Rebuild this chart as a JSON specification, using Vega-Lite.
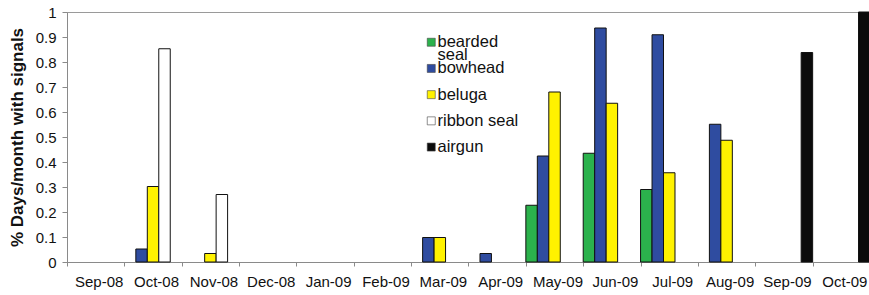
{
  "$schema": "https://vega.github.io/schema/vega-lite/v6.json",
  "width": 803,
  "height": 250,
  "autosize": {"type": "none"},
  "padding": {"left": 67, "top": 12, "right": 0, "bottom": 33},
  "background": "white",
  "config": {
    "font": "Liberation Sans",
    "view": {"stroke": "#9a9a9a", "strokeWidth": 1}
  },
  "layer": [
    {
      "data": {
        "values": [
          {"month": "Oct-08", "species": "bowhead", "value": 0.052},
          {"month": "Oct-08", "species": "beluga", "value": 0.302},
          {"month": "Oct-08", "species": "ribbon seal", "value": 0.853},
          {"month": "Nov-08", "species": "beluga", "value": 0.034},
          {"month": "Nov-08", "species": "ribbon seal", "value": 0.27},
          {"month": "Mar-09", "species": "bowhead", "value": 0.098},
          {"month": "Mar-09", "species": "beluga", "value": 0.098},
          {"month": "Apr-09", "species": "bowhead", "value": 0.034},
          {"month": "May-09", "species": "bearded seal", "value": 0.227},
          {"month": "May-09", "species": "bowhead", "value": 0.424},
          {"month": "May-09", "species": "beluga", "value": 0.68},
          {"month": "Jun-09", "species": "bearded seal", "value": 0.435},
          {"month": "Jun-09", "species": "bowhead", "value": 0.936},
          {"month": "Jun-09", "species": "beluga", "value": 0.635},
          {"month": "Jul-09", "species": "bearded seal", "value": 0.29},
          {"month": "Jul-09", "species": "bowhead", "value": 0.909},
          {"month": "Jul-09", "species": "beluga", "value": 0.357},
          {"month": "Aug-09", "species": "bowhead", "value": 0.551},
          {"month": "Aug-09", "species": "beluga", "value": 0.487},
          {"month": "Sep-09", "species": "airgun", "value": 0.838},
          {"month": "Oct-09", "species": "airgun", "value": 1.0}
        ]
      },
      "mark": {"type": "bar", "stroke": "#111111", "strokeWidth": 1},
      "encoding": {
        "x": {
          "field": "month",
          "type": "nominal",
          "scale": {
            "domain": ["Sep-08", "Oct-08", "Nov-08", "Dec-08", "Jan-09", "Feb-09", "Mar-09", "Apr-09", "May-09", "Jun-09", "Jul-09", "Aug-09", "Sep-09", "Oct-09"],
            "paddingInner": 0,
            "paddingOuter": 0
          },
          "axis": {
            "title": null,
            "labelAngle": 0,
            "labelFontSize": 15,
            "labelColor": "#111111",
            "labelPadding": 8,
            "labelOffset": 3,
            "tickBand": "extent",
            "tickSize": 4,
            "tickColor": "#8a8a8a",
            "domainColor": "#8a8a8a",
            "grid": false
          }
        },
        "xOffset": {
          "field": "species",
          "type": "nominal",
          "scale": {
            "domain": ["bearded seal", "bowhead", "beluga", "ribbon seal", "airgun"],
            "paddingInner": 0,
            "paddingOuter": 0
          }
        },
        "y": {
          "field": "value",
          "type": "quantitative",
          "scale": {"domain": [0, 1], "nice": false},
          "axis": {
            "title": "% Days/month with signals",
            "titleFontSize": 17,
            "titleFontWeight": "bold",
            "titleColor": "#111111",
            "titlePadding": 9,
            "values": [0, 0.1, 0.2, 0.3, 0.4, 0.5, 0.6, 0.7, 0.8, 0.9, 1],
            "format": "~g",
            "labelFontSize": 15,
            "labelColor": "#111111",
            "labelPadding": 6,
            "tickSize": 5,
            "tickColor": "#8a8a8a",
            "domainColor": "#8a8a8a",
            "grid": false
          }
        },
        "color": {
          "field": "species",
          "type": "nominal",
          "scale": {
            "domain": ["bearded seal", "bowhead", "beluga", "ribbon seal", "airgun"],
            "range": ["#2bb24c", "#2f4ca0", "#fff200", "#ffffff", "#0b0b0b"]
          },
          "legend": {
            "title": null,
            "orient": "none",
            "legendX": 356,
            "legendY": 22,
            "padding": 0,
            "symbolType": "square",
            "symbolSize": 64,
            "symbolStrokeColor": "#444444",
            "symbolStrokeWidth": 0.6,
            "symbolOpacity": 1,
            "labelFontSize": 16.5,
            "labelColor": "#111111",
            "labelOffset": -2,
            "rowPadding": 9.2,
            "labelExpr": "datum.label == 'bearded seal' ? 'bearded' : datum.label"
          }
        }
      }
    },
    {
      "data": {"values": [{"note": "seal"}]},
      "mark": {"type": "point", "opacity": 0},
      "encoding": {
        "color": {
          "field": "note",
          "type": "nominal",
          "scale": {"range": ["#ffffff"]},
          "legend": {
            "title": null,
            "orient": "none",
            "legendX": 356,
            "legendY": 34.7,
            "padding": 0,
            "symbolType": "square",
            "symbolSize": 64,
            "symbolOpacity": 0,
            "symbolStrokeWidth": 0,
            "labelFontSize": 16.5,
            "labelColor": "#111111",
            "labelOffset": -2
          }
        }
      }
    }
  ],
  "resolve": {"scale": {"color": "independent"}}
}
